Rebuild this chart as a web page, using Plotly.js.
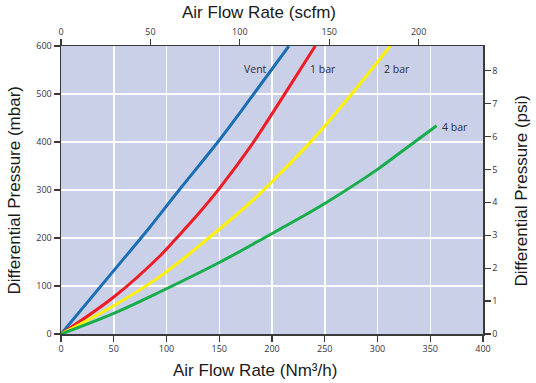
<!DOCTYPE html>
<html><head><meta charset="utf-8">
<script src="https://cdn.plot.ly/plotly-3.0.1.min.js"></script>
<style>html,body{margin:0;padding:0;background:#fff}#chart{width:536px;height:383px}</style>
</head><body><div id="chart"></div>
<script>
// Air flow (Nm3/h) vs differential pressure (mbar)
const ventFlow = [0, 50, 84, 112, 149, 181, 216];
const ventDp   = [0, 132, 222, 300, 401, 495, 600];
const bar1Flow = [0, 50, 94, 110, 130, 150, 180, 210, 241];
const bar1Dp   = [0, 77, 163, 201, 250, 303, 392, 493, 600];
const bar2Flow = [0, 50, 94, 140, 186, 208, 239, 275.5, 312];
const bar2Dp   = [0, 59, 120, 200, 287, 335, 406, 500, 600];
const bar4Flow = [0, 50, 94, 150, 190, 208, 250, 300, 321, 356];
const bar4Dp   = [0, 43, 88, 149, 197, 219, 272, 343, 377, 434];
const seriesNames = ["Vent", "1 bar", "2 bar", "4 bar"];
const labelX = [184, 248, 318.5, 373.5];
const labelY = [553, 553, 553, 431];
const xTicks = [0, 50, 100, 150, 200, 250, 300, 350, 400];
const yTicks = [0, 100, 200, 300, 400, 500, 600];
const scfmTicks = [0, 50, 100, 150, 200];
const psiTicks = [0, 1, 2, 3, 4, 5, 6, 7, 8];
const titles = ["Air Flow Rate (scfm)", "Air Flow Rate (Nm³/h)", "Differential Pressure (mbar)", "Differential Pressure (psi)"];

const colors = ["#1b6db4", "#ee1c25", "#fff200", "#17ad4b"];
const flows = [ventFlow, bar1Flow, bar2Flow, bar4Flow];
const dps = [ventDp, bar1Dp, bar2Dp, bar4Dp];

const traces = flows.map((f, i) => ({
  x: f, y: dps[i], name: seriesNames[i], type: "scatter", mode: "lines",
  line: {color: colors[i], width: 3, shape: "spline", smoothing: 1},
  xaxis: "x", yaxis: "y", hoverinfo: "skip"
}));
traces.push({x: [0, 236], y: [0, 8.75], xaxis: "x2", yaxis: "y2", mode: "markers",
  marker: {opacity: 0}, showlegend: false, hoverinfo: "skip"});

const tickFont = {family: "Open Sans, sans-serif", size: 9, color: "#33333f"};
const titleFont = {family: "Liberation Sans, Arial, sans-serif", size: 17, color: "#1a1a1a"};
const axisCommon = {showline: true, linecolor: "#3a3a3a", linewidth: 1.5, ticks: "outside",
  ticklen: 6, tickcolor: "#3a3a3a", tickwidth: 1.2, tickfont: tickFont, zeroline: false, fixedrange: true};

const titleAnn = [
  {text: titles[0], x: 0.469, y: 1.1146, textangle: 0},
  {text: titles[1], x: 0.460, y: -0.125, textangle: 0},
  {text: titles[2], x: -0.1102, y: 0.5, textangle: -90},
  {text: titles[3], x: 1.0912, y: 0.4965, textangle: -90}
].map(a => Object.assign(a, {xref: "paper", yref: "paper", xanchor: "center", yanchor: "middle",
  showarrow: false, font: titleFont}));

const layout = {
  width: 536, height: 383,
  margin: {l: 61, r: 53, t: 46, b: 49},
  paper_bgcolor: "#ffffff", plot_bgcolor: "#c9d0e8",
  showlegend: false,
  xaxis: Object.assign({}, axisCommon, {range: [0, 400], tickvals: xTicks, ticktext: xTicks.map(String),
    showgrid: true, gridcolor: "#ffffff", gridwidth: 1.5}),
  yaxis: Object.assign({}, axisCommon, {range: [0, 600], tickvals: yTicks, ticktext: yTicks.map(String),
    showgrid: true, gridcolor: "#ffffff", gridwidth: 1.5}),
  xaxis2: Object.assign({}, axisCommon, {range: [0, 236], overlaying: "x", side: "top", anchor: "y",
    tickvals: scfmTicks, ticktext: scfmTicks.map(String), showgrid: false}),
  yaxis2: Object.assign({}, axisCommon, {range: [0, 8.75], overlaying: "y", side: "right", anchor: "x",
    tickvals: psiTicks, ticktext: psiTicks.map(String), showgrid: false}),
  annotations: seriesNames.map((n, i) => ({x: labelX[i], y: labelY[i], xref: "x", yref: "y",
    text: n, showarrow: false, font: {family: "Open Sans, sans-serif", size: 10.5, color: "#2f2f3a"}}))
    .concat(titleAnn)
};

Plotly.newPlot("chart", traces, layout, {displayModeBar: false, staticPlot: true});
</script></body></html>
